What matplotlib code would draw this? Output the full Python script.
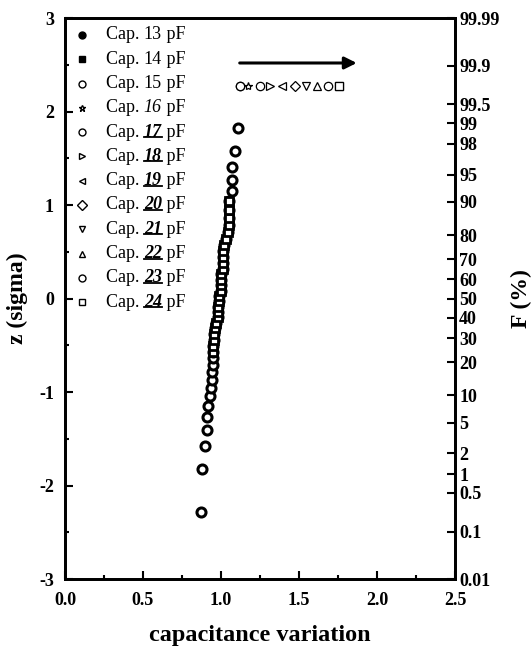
import matplotlib
matplotlib.use("Agg")
import matplotlib.pyplot as plt
from matplotlib.lines import Line2D
from matplotlib.transforms import IdentityTransform
from statistics import NormalDist

# capacitor series shown in the legend
caps = [13, 14, 15, 16, 17, 18, 19, 20, 21, 22, 23, 24]
markers = ['o', 's', 'o', '*', 'o', '>', '<', 'D', 'v', '^', 'o', 's']
filled = [True, True] + [False] * 10
num_style = ['plain', 'plain', 'plain', 'italic'] + ['bolditalic'] * 8

# capacitance variation, sorted, ranks 1..43 (read from the column)
rank_x = [0.872, 0.878, 0.897, 0.910, 0.910, 0.917, 0.929, 0.936, 0.942, 0.942,
          0.949, 0.949, 0.949, 0.949, 0.955, 0.955, 0.962, 0.968, 0.981, 0.981,
          0.981, 0.987, 0.987, 1.000, 1.000, 1.000, 1.000, 1.013, 1.013, 1.013,
          1.013, 1.019, 1.032, 1.045, 1.051, 1.051, 1.051, 1.051, 1.071, 1.071,
          1.071, 1.090, 1.109]
# largest value (rank 44) of each series
top_x = [1.122, 1.756, 1.122, 1.173, 1.250, 1.314, 1.391, 1.474, 1.545, 1.615,
         1.686, 1.756]
# series visible in the column: circles over all ranks, squares in the middle
col_circle = 10
col_square = 11
sq_lo, sq_hi = 12, 38

# right axis, cumulative frequency (%)
f_ticks = [0.01, 0.1, 0.5, 1, 2, 5, 10, 20, 30, 40, 50, 60, 70, 80, 90, 95, 98,
           99, 99.5, 99.9, 99.99]
f_labels = ['0.01', '0.1', '0.5', '1', '2', '5', '10', '20', '30', '40', '50',
            '60', '70', '80', '90', '95', '98', '99', '99.5', '99.9', '99.99']

nd = NormalDist()
n = len(rank_x) + 1
z = [nd.inv_cdf((i - 0.5) / n) for i in range(1, n + 1)]

plt.rcParams['font.family'] = 'Liberation Serif'

fig = plt.figure(figsize=(5.31, 6.47), dpi=100)
ax = fig.add_axes([0.1224, 0.105, 0.7345, 0.867])

# the column of points
ax.plot(rank_x, z[:n - 1], linestyle='none', marker=markers[col_circle],
        ms=6.5, mfc='white', mec='k', mew=2.2, zorder=3)
ax.plot(rank_x[sq_lo:sq_hi], z[sq_lo:sq_hi], linestyle='none',
        marker=markers[col_square], ms=6, mfc='white', mec='k', mew=2.0,
        zorder=4)

# top point of each series
for k in range(len(caps)):
    fc = 'k' if filled[k] else 'white'
    ms = 5 if markers[k] == 'D' else 6
    ax.plot([top_x[k]], [z[-1]], linestyle='none', marker=markers[k], ms=ms,
            mfc=fc, mec='k', mew=0.9, zorder=3 + k)

ax.annotate('', xy=(1.87, 2.52), xytext=(1.12, 2.52),
            arrowprops=dict(arrowstyle='-|>', lw=2.2, color='k',
                            mutation_scale=18, shrinkA=0, shrinkB=0))

ax.set_xlim(0, 2.5)
ax.set_ylim(-3, 3)
ax.set_xticks([0, 0.5, 1.0, 1.5, 2.0, 2.5])
ax.set_xticks([0.25, 0.75, 1.25, 1.75, 2.25], minor=True)
ax.set_yticks([-3, -2, -1, 0, 1, 2, 3])
ax.set_yticks([-2.5, -1.5, -0.5, 0.5, 1.5, 2.5], minor=True)
ax.set_xticklabels(['0.0', '0.5', '1.0', '1.5', '2.0', '2.5'])
ax.set_yticklabels(['-3', '-2', '-1', '0', '1', '2', '3'])
ax.tick_params(which='both', direction='in', width=1.5, labelsize=13,
               top=False, right=False)
ax.tick_params(which='major', length=6)
ax.tick_params(which='minor', length=3)
ax.tick_params(axis='x', which='major', pad=9)
ax.tick_params(axis='y', which='major', pad=8)
for lab in ax.get_xticklabels() + ax.get_yticklabels():
    lab.set_fontweight('bold')
for s in ax.spines.values():
    s.set_linewidth(2)
ax.set_xlabel('capacitance variation', fontsize=17.5, fontweight='bold',
              labelpad=12)
ax.set_ylabel('z (sigma)', fontsize=17, fontweight='bold', labelpad=8)

ax2 = ax.twinx()
ax2.set_ylim(nd.inv_cdf(0.0001), nd.inv_cdf(0.9999))
ax2.set_yticks([nd.inv_cdf(f / 100) for f in f_ticks])
ax2.set_yticklabels(f_labels)
ax2.tick_params(direction='in', length=6, width=1.5, labelsize=13, pad=3)
for lab in ax2.get_yticklabels():
    lab.set_fontweight('bold')
for s in ax2.spines.values():
    s.set_linewidth(2)
ax2.set_ylabel('F (%)', fontsize=17, fontweight='bold', labelpad=8)

# legend drawn by hand so the numbers can be bold italic and underlined
row_top = 0.970
row_step = 0.0433
num_texts = []
for k, c in enumerate(caps):
    y = row_top - k * row_step
    fc = 'k' if filled[k] else 'white'
    ax.plot([0.044], [y], transform=ax.transAxes, marker=markers[k], ms=5,
            mfc=fc, mec='k', mew=1.0, linestyle='none', clip_on=False)
    t1 = ax.text(0.105, y, 'Cap. ', transform=ax.transAxes, fontsize=13,
                 va='center', ha='left')
    if num_style[k] == 'bolditalic':
        t2 = ax.annotate(str(c), xy=(1, 0), xycoords=t1, va='bottom',
                         ha='left', fontsize=13, fontweight='bold',
                         fontstyle='italic')
        num_texts.append(t2)
    elif num_style[k] == 'italic':
        t2 = ax.annotate(str(c), xy=(1, 0), xycoords=t1, va='bottom',
                         ha='left', fontsize=13, fontstyle='italic')
    else:
        t2 = ax.annotate(str(c), xy=(1, 0), xycoords=t1, va='bottom',
                         ha='left', fontsize=13)
    ax.annotate(' pF', xy=(1, 0), xycoords=t2, va='bottom', ha='left',
                fontsize=13)

fig.canvas.draw()
for t in num_texts:
    bb = t.get_window_extent()
    yl = bb.y0 + 0.2 * bb.height
    fig.add_artist(Line2D([bb.x0, bb.x1], [yl, yl], color='k', lw=1.3,
                          transform=IdentityTransform()))

fig.savefig('out.png', dpi=100)
